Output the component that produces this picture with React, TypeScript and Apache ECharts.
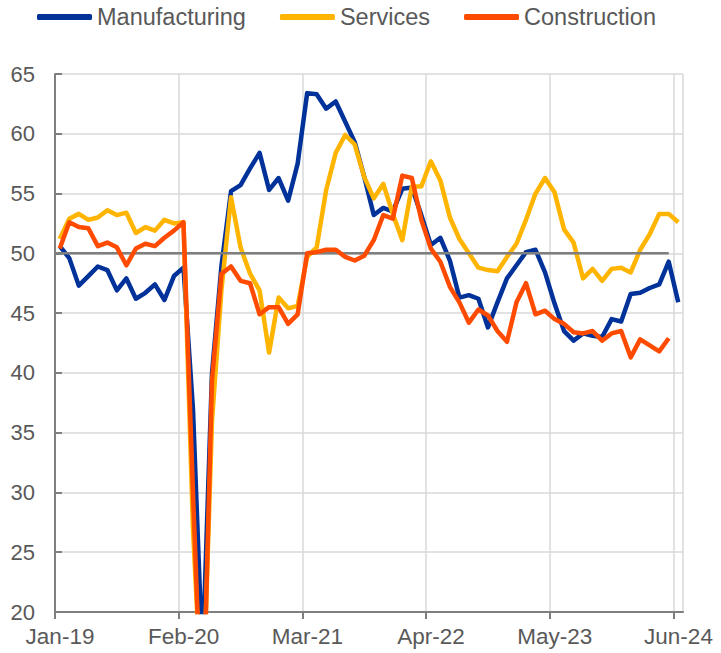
import React, { useEffect, useRef } from "react";
import * as echarts from "echarts";

const months = [
  "Jan-19","Feb-19","Mar-19","Apr-19","May-19","Jun-19","Jul-19","Aug-19","Sep-19","Oct-19","Nov-19","Dec-19",
  "Jan-20","Feb-20","Mar-20","Apr-20","May-20","Jun-20","Jul-20","Aug-20","Sep-20","Oct-20","Nov-20","Dec-20",
  "Jan-21","Feb-21","Mar-21","Apr-21","May-21","Jun-21","Jul-21","Aug-21","Sep-21","Oct-21","Nov-21","Dec-21",
  "Jan-22","Feb-22","Mar-22","Apr-22","May-22","Jun-22","Jul-22","Aug-22","Sep-22","Oct-22","Nov-22","Dec-22",
  "Jan-23","Feb-23","Mar-23","Apr-23","May-23","Jun-23","Jul-23","Aug-23","Sep-23","Oct-23","Nov-23","Dec-23",
  "Jan-24","Feb-24","Mar-24","Apr-24","May-24","Jun-24","Jul-24",
];

const manufacturing = [
  50.6, 49.6, 47.3, 48.1, 48.9, 48.6, 46.9, 47.9, 46.2, 46.7, 47.4, 46.1,
  48.1, 48.8, 37.0, 16.0, 40.0, 49.0, 55.2, 55.7, 57.1, 58.4, 55.3, 56.3,
  54.4, 57.5, 63.4, 63.3, 62.1, 62.7, 61.0, 59.3, 56.4, 53.2, 53.8, 53.5,
  55.4, 55.5, 53.2, 50.7, 51.3, 49.4, 46.3, 46.5, 46.2, 43.8, 45.9, 47.9,
  49.0, 50.1, 50.3, 48.4, 45.8, 43.5, 42.7, 43.3, 43.1, 43.0, 44.5, 44.3,
  46.6, 46.7, 47.1, 47.4, 49.3, 45.9,
];

const services = [
  51.2, 52.9, 53.3, 52.8, 53.0, 53.6, 53.2, 53.4, 51.7, 52.2, 51.9, 52.8,
  52.5, 52.6, 27.0, 11.0, 36.0, 47.0, 54.7, 50.5, 48.3, 46.9, 41.7, 46.3,
  45.4, 45.6, 49.7, 50.5, 55.3, 58.4, 59.9, 59.1, 56.4, 54.6, 55.8, 53.3,
  51.1, 55.6, 55.6, 57.7, 56.1, 53.0, 51.2, 50.0, 48.8, 48.6, 48.5, 49.7,
  50.8, 52.8, 55.0, 56.3, 55.1, 52.0, 50.9, 47.9, 48.7, 47.7, 48.7, 48.8,
  48.4, 50.3, 51.6, 53.3, 53.3, 52.6,
];

const construction = [
  50.4, 52.6, 52.2, 52.1, 50.6, 50.9, 50.5, 49.0, 50.4, 50.8, 50.6, 51.3,
  51.9, 52.6, 30.0, 9.0, 39.4, 48.3, 48.9, 47.7, 47.5, 44.9, 45.5, 45.5,
  44.1, 44.9, 50.0, 50.1, 50.3, 50.3, 49.7, 49.4, 49.8, 51.1, 53.2, 52.9,
  56.5, 56.3, 52.8, 50.4, 49.3, 47.2, 45.9, 44.2, 45.3, 44.8, 43.5, 42.6,
  45.9, 47.5, 44.9, 45.2, 44.5, 44.1, 43.4, 43.3, 43.5, 42.7, 43.3, 43.5,
  41.3, 42.8, 42.3, 41.8, 42.9, null,
];

const referenceLevel = 50;
const yTicks = { min: 20, max: 65, interval: 5 };
const labelEvery = 13;
const pointOffset = 0.5; // data points sit mid-month relative to the axis ticks

const toPoints = (arr: (number | null)[]) =>
  arr.map((v, i) => [i + pointOffset, v === null ? "-" : v]);

const FONT = "'Liberation Sans', Arial, Helvetica, sans-serif";
const TEXT = "#595959";

export default function App() {
  const ref = useRef<HTMLDivElement>(null);
  useEffect(() => {
    if (!ref.current) return;
    const chart = echarts.init(ref.current, null, { renderer: "svg" });
    const lastIdx = months.length - 1;
    const tickFn = (idx: number) => idx % labelEvery === 0 && idx < lastIdx;
    chart.setOption({
      animation: false,
      textStyle: { fontFamily: FONT, color: TEXT },
      legend: {
        left: 32,
        top: 0,
        itemWidth: 55,
        itemHeight: 6,
        itemGap: 34,
        icon: "roundRect",
        textStyle: { fontSize: 23.5, color: TEXT, fontFamily: FONT },
        data: ["Manufacturing", "Services", "Construction"],
      },
      grid: { left: 55, right: 38, top: 74, bottom: 41, containLabel: false },
      xAxis: [
        {
          type: "category",
          data: months,
          boundaryGap: false,
          axisLine: { onZero: false, lineStyle: { color: "#7f7f7f", width: 2 } },
          axisTick: {
            interval: tickFn,
            length: 7,
            lineStyle: { color: "#7f7f7f", width: 2 },
          },
          axisLabel: {
            interval: tickFn,
            fontSize: 22.5,
            color: TEXT,
            fontFamily: FONT,
            margin: 13,
            padding: [0, 0, 0, 10],
          },
          splitLine: {
            show: true,
            interval: (idx: number) => idx % labelEvery === 0 || idx === lastIdx,
            lineStyle: { color: "#d9d9d9", width: 1.5 },
          },
        },
        {
          type: "value",
          min: 0,
          max: lastIdx,
          show: false,
        },
      ],
      yAxis: {
        type: "value",
        min: yTicks.min,
        max: yTicks.max,
        interval: yTicks.interval,
        axisLine: { show: true, onZero: false, lineStyle: { color: "#7f7f7f", width: 2 } },
        axisTick: { show: true, inside: true, length: 7, lineStyle: { color: "#7f7f7f", width: 2 } },
        axisLabel: { fontSize: 22, color: TEXT, fontFamily: FONT, margin: 20 },
        splitLine: { lineStyle: { color: "#d9d9d9", width: 1.5 } },
      },
      series: [
        {
          name: "Manufacturing",
          type: "line",
          xAxisIndex: 1,
          data: toPoints(manufacturing),
          symbol: "none",
          color: "#003299",
          lineStyle: { width: 4.5, color: "#003299", join: "round" },
          z: 2,
        },
        {
          name: "Services",
          type: "line",
          xAxisIndex: 1,
          data: toPoints(services),
          symbol: "none",
          color: "#FFB400",
          lineStyle: { width: 4.5, color: "#FFB400", join: "round" },
          z: 3,
        },
        {
          name: "ref",
          type: "line",
          xAxisIndex: 1,
          data: [
            [0, referenceLevel],
            [construction.length - 2 + pointOffset, referenceLevel],
          ],
          symbol: "none",
          silent: true,
          lineStyle: { width: 2.5, color: "#7f7f7f" },
          z: 4,
        },
        {
          name: "Construction",
          type: "line",
          xAxisIndex: 1,
          data: toPoints(construction),
          symbol: "none",
          color: "#FF4B00",
          lineStyle: { width: 4.5, color: "#FF4B00", join: "round" },
          z: 5,
        },
      ],
    });
    return () => chart.dispose();
  }, []);
  return <div ref={ref} style={{ width: 721, height: 653, position: "absolute", left: 0, top: 0 }} />;
}
